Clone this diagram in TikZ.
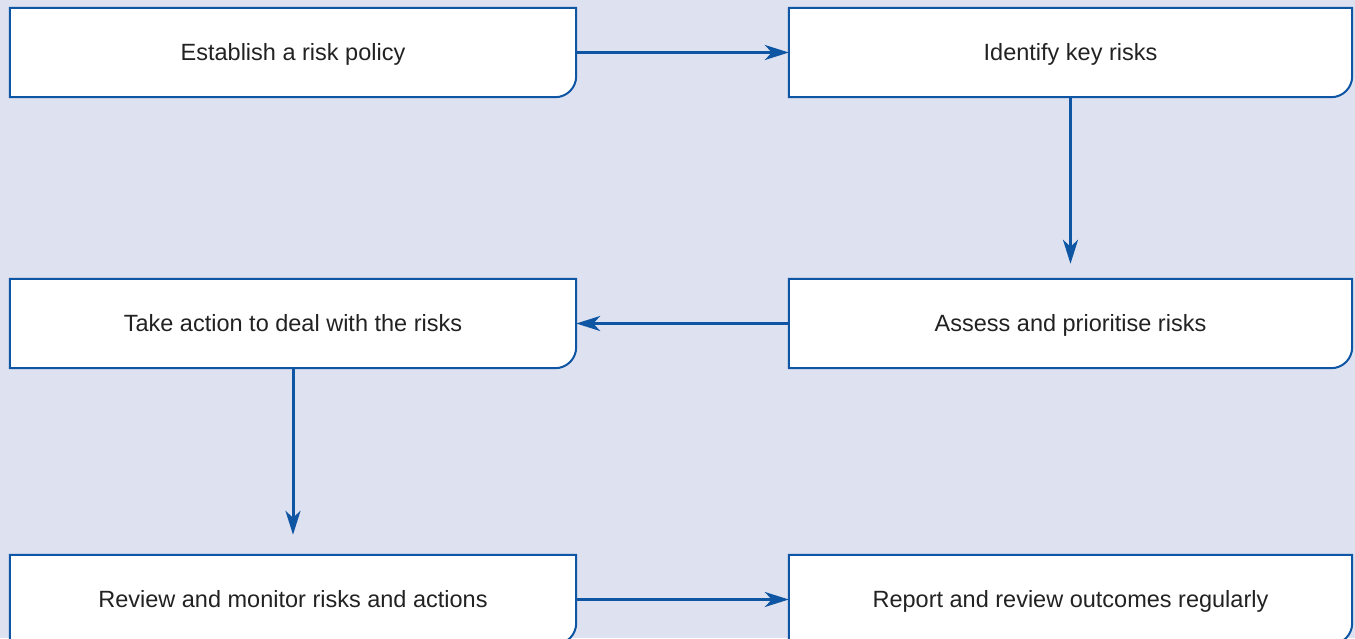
\documentclass[tikz,border=0pt]{standalone}
\usepackage{fontspec}
\setmainfont{Liberation Sans}
\usetikzlibrary{arrows.meta}
\definecolor{bgc}{HTML}{DEE1F0}
\definecolor{bluec}{HTML}{0E56A4}
\definecolor{txtc}{HTML}{222222}
\tikzset{
  stage/.style={minimum width=566pt, minimum height=89pt, inner sep=0pt, text=txtc,
    text height=17pt, text depth=5pt,
    font=\fontsize{23.5pt}{28pt}\selectfont},
  stager/.style={stage, minimum width=563pt},
  label/.style={yshift=-2pt},
  conn/.style={draw=bluec, line width=3pt, -{Stealth[length=24pt,width=15pt,inset=7pt]}},
}
\newcommand{\boxoutline}[1]{%
  \draw[draw=bluec, line width=2pt, fill=white]
    (#1.north west) -- (#1.north east) -- ([yshift=21pt]#1.south east)
    arc[start angle=0, end angle=-90, radius=21pt] -- (#1.south west) -- cycle;}
\begin{document}
\begin{tikzpicture}[x=1pt,y=1pt]
\fill[bgc] (0,0) rectangle (1355,638);
\useasboundingbox (0,0) rectangle (1355,638);
\path (293,585.5) node[stage] (a) {};
\path (1070.5,585.5) node[stager] (b) {};
\path (1070.5,314.5) node[stager] (c) {};
\path (293,314.5) node[stage] (d) {};
\path (293,38.5) node[stage] (e) {};
\path (1070.5,38.5) node[stager] (f) {};
\boxoutline{a}\boxoutline{b}\boxoutline{c}\boxoutline{d}\boxoutline{e}\boxoutline{f}
\path (a) node[stage,label] {Establish a risk policy};
\path (b) node[stager,label] {Identify key risks};
\path (c) node[stager,label] {Assess and prioritise risks};
\path (d) node[stage,label] {Take action to deal with the risks};
\path (e) node[stage,label] {Review and monitor risks and actions};
\path (f) node[stager,label] {Report and review outcomes regularly};
\draw[conn] (a.east) -- (b.west);
\draw[conn, shorten >=15pt] (b.south) -- (c.north);
\draw[conn] (c.west) -- (d.east);
\draw[conn, shorten >=20pt] (d.south) -- (e.north);
\draw[conn] (e.east) -- (f.west);
\end{tikzpicture}
\end{document}
